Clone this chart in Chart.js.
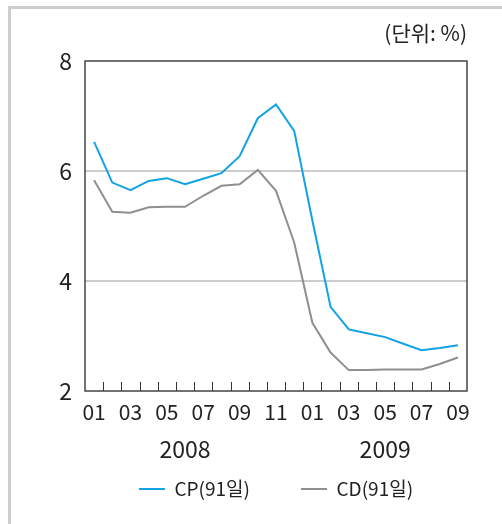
<!DOCTYPE html>
<html>
<head>
<meta charset="utf-8">
<script src="https://cdn.jsdelivr.net/npm/chart.js@4/dist/chart.umd.min.js"></script>
<style>
  html, body { margin: 0; padding: 0; background: #fff; overflow: hidden; }
  #wrap { position: relative; width: 502px; height: 524px; overflow: hidden; }
  #frame { position: absolute; left: 8px; top: 6px; width: 600px; height: 600px; border: 3px solid #cdcdcd; background: #fff; }
  #c { position: absolute; left: 0; top: 0; }
</style>
</head>
<body>
<div id="wrap">
  <div id="frame"></div>
  <canvas id="c" width="502" height="524"></canvas>
</div>
<script>
// ---- data ----
const months = ['01','02','03','04','05','06','07','08','09','10','11','12',
                '01','02','03','04','05','06','07','08','09'];
const cpRates = [6.53, 5.79, 5.65, 5.82, 5.87, 5.76, 5.86, 5.96, 6.27, 6.96, 7.21, 6.73,
                 5.10, 3.53, 3.12, 3.05, 2.98, 2.86, 2.74, 2.78, 2.83];
const cdRates = [5.83, 5.26, 5.24, 5.34, 5.35, 5.35, 5.55, 5.73, 5.76, 6.02, 5.64, 4.70,
                 3.24, 2.70, 2.38, 2.38, 2.39, 2.39, 2.39, 2.49, 2.61];
const seriesNames = ['CP(91일)', 'CD(91일)'];
const yearLabels = ['2008', '2009'];
const yearFrom = [0, 12];
const yearTo = [10, 20];
const yTicks = [2, 4, 6, 8];
const unitText = '(단위: %)';

const FONT = "'Noto Sans CJK KR', 'Liberation Sans', sans-serif";

const framePlugin = {
  id: 'framePlugin',
  afterDatasetsDraw(chart) {
    const {ctx, chartArea: a, scales: {x}} = chart;
    ctx.save();
    // inner ticks at slot boundaries
    ctx.strokeStyle = '#333';
    ctx.lineWidth = 1;
    for (let i = 1; i < months.length; i++) {
      const px = Math.round((x.getPixelForValue(i - 1) + x.getPixelForValue(i)) / 2) + 0.5;
      ctx.beginPath();
      ctx.moveTo(px, a.bottom);
      ctx.lineTo(px, a.bottom - 9);
      ctx.stroke();
    }
    // plot frame
    ctx.strokeStyle = '#444';
    ctx.lineWidth = 1.5;
    ctx.strokeRect(a.left, a.top, a.right - a.left, a.bottom - a.top);
    // year labels
    ctx.fillStyle = '#222';
    ctx.font = '23px ' + FONT;
    ctx.textAlign = 'center';
    ctx.textBaseline = 'middle';
    yearLabels.forEach((lab, k) => {
      const cx = (x.getPixelForValue(yearFrom[k]) + x.getPixelForValue(yearTo[k])) / 2;
      ctx.fillText(lab, cx, a.bottom + 58);
    });
    ctx.restore();
  }
};

new Chart(document.getElementById('c'), {
  type: 'line',
  data: {
    labels: months,
    datasets: [
      { label: seriesNames[0], data: cpRates, borderColor: '#11a3e4', backgroundColor: '#11a3e4',
        borderWidth: 2, pointRadius: 0, tension: 0 },
      { label: seriesNames[1], data: cdRates, borderColor: '#8f8f8f', backgroundColor: '#8f8f8f',
        borderWidth: 2, pointRadius: 0, tension: 0 }
    ]
  },
  options: {
    responsive: false,
    animation: false,
    layout: { padding: { left: 0, right: 35, top: 0, bottom: 15.5 } },
    plugins: {
      tooltip: { enabled: false },
      title: {
        display: true, text: unitText, align: 'end', color: '#222',
        font: { family: FONT, size: 21, weight: 'normal' },
        padding: { top: 20.4, bottom: 15.4 }
      },
      legend: {
        position: 'bottom',
        fullSize: false,
        labels: {
          usePointStyle: true, pointStyle: 'line', pointStyleWidth: 26,
          padding: 51, color: '#222',
          font: { family: FONT, size: 19 }
        }
      }
    },
    scales: {
      x: {
        type: 'category',
        offset: true,
        grid: { display: false, drawTicks: false },
        border: { display: false },
        afterFit: (s) => { s.height = 37.5; },
        ticks: {
          autoSkip: false, maxRotation: 0, padding: 8, color: '#222',
          font: { family: FONT, size: 21 },
          callback: (v, i) => (i % 2 === 0 ? months[i] : '')
        }
      },
      y: {
        min: 2, max: 8,
        afterFit: (s) => { s.width = 85; },
        afterBuildTicks: (s) => { s.ticks = yTicks.map(v => ({ value: v })); },
        border: { display: false },
        grid: {
          drawTicks: false, lineWidth: 2,
          color: (c) => (c.tick && (c.tick.value === 2 || c.tick.value === 8)) ? 'rgba(0,0,0,0)' : '#cccccc'
        },
        ticks: { padding: 13, color: '#222', font: { family: FONT, size: 23 } }
      }
    }
  },
  plugins: [framePlugin]
});
</script>
</body>
</html>
